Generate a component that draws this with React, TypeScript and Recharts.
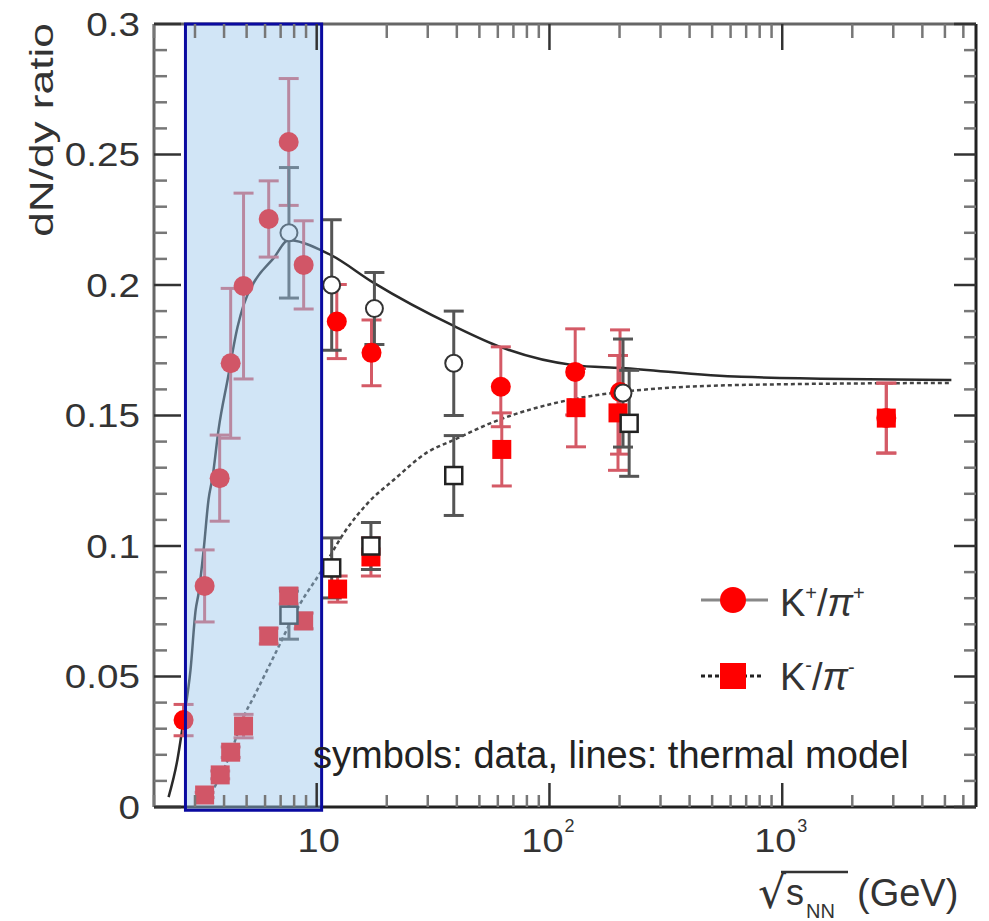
import React from 'react';
import { ComposedChart, XAxis, YAxis, Scatter, Line, ErrorBar, ReferenceArea } from 'recharts';

const W = 989;
const H = 921;
const SANS = '"Liberation Sans", Arial, Helvetica, sans-serif';

// ---- K+/pi+ data (filled red circles) ----
const kpEnergy = [2.68, 3.3, 3.83, 4.27, 4.85, 6.22, 7.58, 8.79, 12.2, 17.2, 61.8, 129, 201, 2800];
const kpRatio = [0.0333, 0.0847, 0.126, 0.170, 0.1996, 0.2253, 0.2548, 0.2077, 0.186, 0.174, 0.161, 0.1667, 0.159, 0.149];
const kpError = [0.006, 0.0138, 0.0165, 0.0287, 0.0356, 0.0146, 0.0243, 0.0169, 0.0142, 0.0126, 0.0153, 0.0165, 0.0238, 0.0134];

// ---- K-/pi- data (filled red squares) ----
const kmEnergy = [3.3, 3.85, 4.27, 4.85, 6.22, 7.58, 8.79, 12.3, 17.1, 62.4, 130, 197, 2800];
const kmRatio = [0.0046, 0.0123, 0.021, 0.031, 0.0655, 0.0808, 0.0713, 0.0835, 0.0958, 0.137, 0.153, 0.151, 0.149];
const kmError = [0.001, 0.0015, 0.002, 0.0045, 0.003, 0.003, 0.003, 0.005, 0.0073, 0.014, 0.015, 0.022, 0.0134];

// ---- K+/pi+ other data set (open circles) ----
const kpOpenEnergy = [7.6, 11.6, 17.7, 38.8, 207];
const kpOpenRatio = [0.22, 0.2, 0.191, 0.170, 0.1586];
const kpOpenError = [0.025, 0.025, 0.0138, 0.02, 0.0207];

// ---- K-/pi- other data set (open squares) ----
const kmOpenEnergy = [7.6, 11.6, 17.1, 38.8, 220];
const kmOpenRatio = [0.0735, 0.0916, 0.100, 0.127, 0.147];
const kmOpenError = [0.0092, 0.0115, 0.009, 0.0153, 0.0203];

// ---- thermal model curves ----
const kpModelEnergy = [2.31, 2.52, 2.68, 2.87, 3.02, 3.11, 3.27, 3.43, 3.57, 3.79, 4.14, 4.57, 4.85, 5.36, 6.53, 7.58, 8.79, 10.4, 11.5, 17.6, 38.8, 61.8, 127, 203, 667, 5330];
const kpModelRatio = [0.0038, 0.018, 0.0333, 0.0525, 0.0755, 0.082, 0.0987, 0.1178, 0.1264, 0.1448, 0.1636, 0.1839, 0.1923, 0.2008, 0.2103, 0.2172, 0.2161, 0.2134, 0.2115, 0.2008, 0.1843, 0.1762, 0.1693, 0.1682, 0.1648, 0.1636];

const kmModelEnergy = [3.17, 3.68, 4.27, 4.85, 5.36, 6.53, 8.53, 10.4, 13.1, 16.6, 21.4, 30.0, 38.8, 56.0, 127, 203, 667, 5330];
const kmModelRatio = [0.0015, 0.0084, 0.0207, 0.0345, 0.0421, 0.0575, 0.0782, 0.09, 0.105, 0.1165, 0.1253, 0.136, 0.1406, 0.1471, 0.1563, 0.159, 0.1617, 0.1625];

// ---- axes ----
const xDomain = [2, 6800];
const yDomain = [0, 0.3];
const xMajorTicks = [10, 100, 1000];
const xMajorLabels = ['10', '10', '10'];
const xMajorExponents = ['', '2', '3'];
const xMinorTicks = [2, 3, 4, 5, 6, 7, 8, 9, 20, 30, 40, 50, 60, 70, 80, 90, 200, 300, 400, 500, 600, 700, 800, 900, 2000, 3000, 4000, 5000, 6000];
const yMajorTicks = [0, 0.05, 0.1, 0.15, 0.2, 0.25, 0.3];
const yMajorLabels = ['0', '0.05', '0.1', '0.15', '0.2', '0.25', '0.3'];
const yMinorTicks = [0.01, 0.02, 0.03, 0.04, 0.06, 0.07, 0.08, 0.09, 0.11, 0.12, 0.13, 0.14, 0.16, 0.17, 0.18, 0.19, 0.21, 0.22, 0.23, 0.24, 0.26, 0.27, 0.28, 0.29];

// shaded energy range
const shadedEnergy = [2.73, 10.5];
const shadedRatio = [-0.0012, 0.3];

const legendLabels = ['K', 'K'];
const legendCharges = ['+', '-'];
const caption = 'symbols: data, lines: thermal model';

const toPoints = (xs: number[], ys: number[], es?: number[]) =>
  xs.map((x, i) => ({ x, y: ys[i], err: es ? es[i] : 0 }));

const kpData = toPoints(kpEnergy, kpRatio, kpError);
const kmData = toPoints(kmEnergy, kmRatio, kmError);
const kpOpenData = toPoints(kpOpenEnergy, kpOpenRatio, kpOpenError);
const kmOpenData = toPoints(kmOpenEnergy, kmOpenRatio, kmOpenError);
const kpModel = toPoints(kpModelEnergy, kpModelRatio);
const kmModel = toPoints(kmModelEnergy, kmModelRatio);

const xTicks = [...xMinorTicks, ...xMajorTicks].sort((a, b) => a - b);
const yTicks = [...yMinorTicks, ...yMajorTicks].sort((a, b) => a - b);

const isMajorY = (v: number) => yMajorTicks.some((t) => Math.abs(t - v) < 1e-9);

const XTickBottom = (props: any) => {
  const { x, y, payload } = props;
  const idx = xMajorTicks.indexOf(payload.value);
  const major = idx >= 0;
  const len = major ? 24 : 12;
  const exp = major ? xMajorExponents[idx] : '';
  return (
    <g>
      <line x1={x} x2={x} y1={y} y2={y - len} stroke={major ? '#333' : '#777'} strokeWidth={2.5} />
      {major && (
        <text
          transform={`translate(${x + (exp ? -7 : 2)}, ${y + 45}) scale(1.15,1)`}
          textAnchor="middle"
          fontSize={33}
          fontFamily={SANS}
          fill="#333"
        >
          {xMajorLabels[idx]}
        </text>
      )}
      {major && exp && (
        <text x={x + 15} y={y + 25} fontSize={18} fontFamily={SANS} fill="#333">
          {exp}
        </text>
      )}
    </g>
  );
};

const XTickTop = (props: any) => {
  const { x, y, payload } = props;
  const major = xMajorTicks.indexOf(payload.value) >= 0;
  const len = major ? 26 : 14;
  return <line x1={x} x2={x} y1={y} y2={y + len} stroke={major ? '#333' : '#777'} strokeWidth={2.5} />;
};

const YTickLeft = (props: any) => {
  const { x, y, payload } = props;
  const major = isMajorY(payload.value);
  const idx = yMajorTicks.findIndex((t) => Math.abs(t - payload.value) < 1e-9);
  const len = major ? 27 : 13;
  return (
    <g>
      <line x1={x} x2={x + len} y1={y} y2={y} stroke={major ? '#333' : '#777'} strokeWidth={2.5} />
      {major && (
        <text
          transform={`translate(${x - 14}, ${y}) scale(1.17,1)`}
          textAnchor="end"
          dy="0.36em"
          fontSize={33}
          fontFamily={SANS}
          fill="#333"
        >
          {yMajorLabels[idx]}
        </text>
      )}
    </g>
  );
};

const YTickRight = (props: any) => {
  const { x, y, payload } = props;
  const major = isMajorY(payload.value);
  const len = major ? 22 : 12;
  return <line x1={x} x2={x - len} y1={y} y2={y} stroke={major ? '#333' : '#777'} strokeWidth={2.5} />;
};

const RedCircle = (p: any) => <circle cx={p.cx} cy={p.cy} r={10} fill="#ff0000" />;
const RedSquare = (p: any) => <rect x={p.cx - 9.5} y={p.cy - 9.5} width={19} height={19} fill="#ff0000" />;
const OpenCircle = (p: any) => <circle cx={p.cx} cy={p.cy} r={8.5} fill="#ffffff" stroke="#333" strokeWidth={2} />;
const OpenSquare = (p: any) => (
  <rect x={p.cx - 8.5} y={p.cy - 8.5} width={17} height={17} fill="#ffffff" stroke="#222" strokeWidth={2.5} />
);

const Overlay = () => (
  <svg width={W} height={H} style={{ position: 'absolute', left: 0, top: 0, pointerEvents: 'none' }}>
    {/* y axis title */}
    <text
      transform="translate(53,130) rotate(-90) scale(1.3,1)"
      textAnchor="middle"
      fontSize={34}
      fontFamily={SANS}
      fill="#333"
    >
      dN/dy ratio
    </text>
    {/* x axis title */}
    <text x={758} y={908} fontSize={44} fontFamily='"DejaVu Sans", sans-serif' fill="#333">
      √
    </text>
    <line x1={781} x2={848} y1={872} y2={872} stroke="#333" strokeWidth={2.5} />
    <text x={786} y={905} fontSize={36} fontFamily={SANS} fill="#333">
      s
    </text>
    <text x={806} y={918} fontSize={20} fontFamily={SANS} fill="#333">
      NN
    </text>
    <text x={857} y={906} fontSize={38} fontFamily={SANS} fill="#333">
      (GeV)
    </text>
    {/* legend */}
    <line x1={701} x2={768} y1={600} y2={600} stroke="#888" strokeWidth={3} />
    <circle cx={733} cy={600} r={13} fill="#ff0000" />
    <text x={780} y={616} fontSize={38} fontFamily={SANS} fill="#333">
      {legendLabels[0]}
      <tspan fontSize={20} dy={-16}>{legendCharges[0]}</tspan>
      <tspan dy={16}>/</tspan>
      <tspan fontStyle="italic">π</tspan>
      <tspan fontSize={20} dy={-16}>{legendCharges[0]}</tspan>
    </text>
    <line x1={701} x2={762} y1={676} y2={676} stroke="#222" strokeWidth={3} strokeDasharray="4 3" />
    <rect x={720} y={663} width={26} height={26} fill="#ff0000" />
    <text x={780} y={690} fontSize={38} fontFamily={SANS} fill="#333">
      {legendLabels[1]}
      <tspan fontSize={20} dy={-18}>{legendCharges[1]}</tspan>
      <tspan dy={18}>/</tspan>
      <tspan fontStyle="italic">π</tspan>
      <tspan fontSize={20} dy={-16}>{legendCharges[1]}</tspan>
    </text>
    {/* caption */}
    <text x={313} y={768} fontSize={38} fontFamily={SANS} fill="#222">
      {caption}
    </text>
  </svg>
);

export default function App() {
  return (
    <div style={{ position: 'absolute', left: 0, top: 0, width: W, height: H, background: '#fff' }}>
      <ComposedChart width={W} height={H} margin={{ top: 22, right: 11, bottom: 54, left: 94 }}>
        <XAxis
          xAxisId="bottom"
          dataKey="x"
          type="number"
          scale="log"
          domain={xDomain}
          allowDataOverflow
          ticks={xTicks}
          interval={0}
          tickSize={0}
          tickMargin={0}
          height={60}
          tick={<XTickBottom />}
          axisLine={{ stroke: '#222', strokeWidth: 3 }}
        />
        <XAxis
          xAxisId="top"
          orientation="top"
          dataKey="x"
          type="number"
          scale="log"
          domain={xDomain}
          allowDataOverflow
          ticks={xTicks}
          interval={0}
          tickSize={0}
          tickMargin={0}
          height={2}
          tick={<XTickTop />}
          axisLine={{ stroke: '#666', strokeWidth: 3 }}
        />
        <YAxis
          yAxisId="left"
          dataKey="y"
          type="number"
          domain={yDomain}
          allowDataOverflow
          ticks={yTicks}
          interval={0}
          tickSize={0}
          tickMargin={0}
          width={60}
          tick={<YTickLeft />}
          axisLine={{ stroke: '#666', strokeWidth: 3 }}
        />
        <YAxis
          yAxisId="right"
          orientation="right"
          dataKey="y"
          type="number"
          domain={yDomain}
          allowDataOverflow
          ticks={yTicks}
          interval={0}
          tickSize={0}
          tickMargin={0}
          width={2}
          tick={<YTickRight />}
          axisLine={{ stroke: '#222', strokeWidth: 3 }}
        />
        <Line
          xAxisId="bottom"
          yAxisId="left"
          data={kpModel}
          dataKey="y"
          type="monotone"
          stroke="#2a2a2a"
          strokeWidth={2.5}
          dot={false}
          activeDot={false}
          isAnimationActive={false}
        />
        <Line
          xAxisId="bottom"
          yAxisId="left"
          data={kmModel}
          dataKey="y"
          type="monotone"
          stroke="#444"
          strokeWidth={2.5}
          strokeDasharray="4 3"
          dot={false}
          activeDot={false}
          isAnimationActive={false}
        />
        <Scatter xAxisId="bottom" yAxisId="left" data={kpData} dataKey="y" shape={RedCircle} isAnimationActive={false}>
          <ErrorBar dataKey="err" direction="y" width={10} stroke="#d45a66" strokeWidth={3} />
        </Scatter>
        <Scatter xAxisId="bottom" yAxisId="left" data={kmData} dataKey="y" shape={RedSquare} isAnimationActive={false}>
          <ErrorBar dataKey="err" direction="y" width={10} stroke="#d45a66" strokeWidth={3} />
        </Scatter>
        <Scatter xAxisId="bottom" yAxisId="left" data={kpOpenData} dataKey="y" shape={OpenCircle} isAnimationActive={false}>
          <ErrorBar dataKey="err" direction="y" width={10} stroke="#555" strokeWidth={3} />
        </Scatter>
        <Scatter xAxisId="bottom" yAxisId="left" data={kmOpenData} dataKey="y" shape={OpenSquare} isAnimationActive={false}>
          <ErrorBar dataKey="err" direction="y" width={10} stroke="#555" strokeWidth={3} />
        </Scatter>
        <ReferenceArea
          xAxisId="bottom"
          yAxisId="left"
          x1={shadedEnergy[0]}
          x2={shadedEnergy[1]}
          y1={shadedRatio[0]}
          y2={shadedRatio[1]}
          ifOverflow="visible"
          fill="rgb(150,195,235)"
          fillOpacity={0.44}
          stroke="#0a0aa0"
          strokeWidth={3}
          {...({ zIndex: 700 } as any)}
        />
      </ComposedChart>
      <Overlay />
    </div>
  );
}
